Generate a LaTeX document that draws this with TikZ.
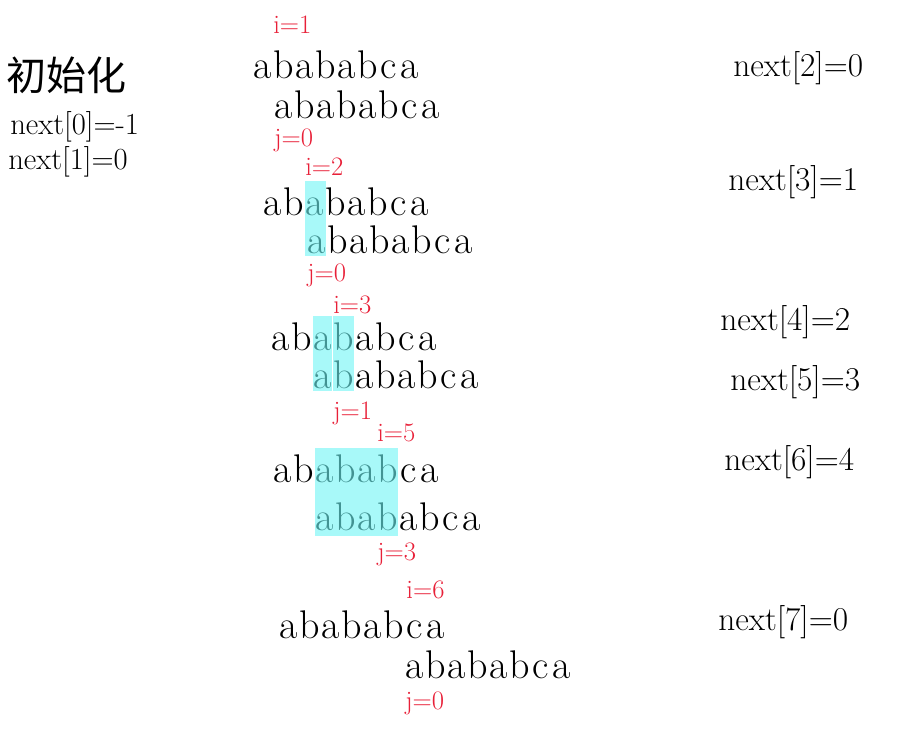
\documentclass[tikz,border=0pt]{standalone}
\usepackage{fontspec}
\newfontfamily\cjk{Noto Sans CJK SC}
\usetikzlibrary{positioning}

\definecolor{penred}{RGB}{232,32,56}
\definecolor{marker}{RGB}{110,245,245}

\tikzset{
  letter/.style={anchor=base, inner sep=0pt, text height=19pt, text depth=0pt,
    font=\fontsize{30}{32}\selectfont},
  ilabel/.style={text=penred, inner sep=0pt, font=\fontsize{20}{22}\selectfont},
  nextval/.style={anchor=base west, inner sep=0pt, font=\fontsize{25}{27}\selectfont},
  startval/.style={anchor=base west, inner sep=0pt, font=\fontsize{23}{25}\selectfont},
  hilite/.style={fill=marker, fill opacity=0.6}
}

% een rij abababca: naam, linkerrand x, basislijn y
\newcommand{\kmprow}[3]{%
  \foreach \ltr [count=\k] in {a,b,a,b,a,b,c,a}
    \node[letter] (#1-\k) at ({#2+(\k-1)*21+10.5},#3) {\ltr};}

\begin{document}
\begin{tikzpicture}[x=0.75pt, y=-0.75pt]
  \useasboundingbox (0,0) rectangle (920,746);

  % Initialisatie
  \node[anchor=base west, inner sep=0pt, font=\cjk\fontsize{30}{32}\selectfont] (init) at (6,90) {初始化};
  \node[startval] (n0) at (10,134) {next[0]=-1};
  \node[startval] (n1) at (8,169) {next[1]=0};

  % Rijen
  \kmprow{t1}{252}{78}  \kmprow{b1}{273}{118}
  \kmprow{t2}{262}{215} \kmprow{b2}{306}{253}
  \kmprow{t3}{270}{350} \kmprow{b3}{312}{388}
  \kmprow{t4}{272}{482} \kmprow{b4}{314}{530}
  \kmprow{t5}{278}{638} \kmprow{b5}{404}{678}

  % Markering
  \fill[hilite] ([yshift=6pt]t2-3.north west) rectangle ([yshift=-2pt]b2-1.south east);
  \fill[hilite] ([yshift=6pt]t3-3.north west) rectangle ([yshift=-2pt]b3-1.south east);
  \fill[hilite] ([yshift=6pt]t3-4.north west) rectangle ([yshift=-2pt]b3-2.south east);
  \fill[hilite] ([yshift=6pt]t4-3.north west) rectangle ([yshift=-4pt]b4-4.south east);

  % i en j
  \node[ilabel, anchor=south west] (i1) at ([yshift=14pt]t1-2.north west) {i=1};
  \node[ilabel, anchor=north west] (j1) at ([yshift=-8pt]b1-1.south west) {j=0};
  \node[ilabel, anchor=south west] (i2) at ([yshift=10pt]t2-3.north west) {i=2};
  \node[ilabel, anchor=north west] (j2) at ([yshift=-8pt]b2-1.south west) {j=0};
  \node[ilabel, anchor=south west] (i3) at ([yshift=8pt]t3-4.north west) {i=3};
  \node[ilabel, anchor=north west] (j3) at ([yshift=-10pt]b3-2.south west) {j=1};
  \node[ilabel, anchor=south west] (i4) at ([yshift=11pt]t4-6.north west) {i=5};
  \node[ilabel, anchor=north west] (j4) at ([yshift=-9pt]b4-4.south west) {j=3};
  \node[ilabel, anchor=south west] (i5) at ([yshift=10pt]t5-7.north west) {i=6};
  \node[ilabel, anchor=north west] (j5) at ([yshift=-10pt]b5-1.south west) {j=0};

  % Resultaten
  \node[nextval] (n2) at (733,76)  {next[2]=0};
  \node[nextval] (n3) at (728,190) {next[3]=1};
  \node[nextval] (n4) at (720,330) {next[4]=2};
  \node[nextval] (n5) at (730,390) {next[5]=3};
  \node[nextval] (n6) at (724,470) {next[6]=4};
  \node[nextval] (n7) at (718,630) {next[7]=0};
\end{tikzpicture}
\end{document}
